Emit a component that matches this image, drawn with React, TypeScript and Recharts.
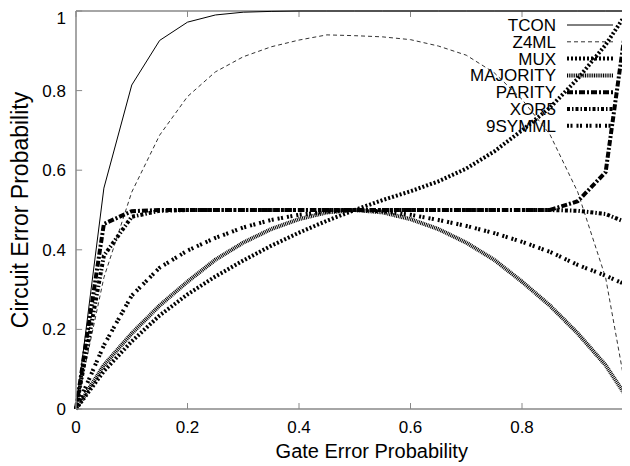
import { Line, LineChart, ReferenceLine, XAxis, YAxis } from "recharts";

const gateError = [
  0, 0.05, 0.1, 0.15, 0.2, 0.25, 0.3, 0.35, 0.4, 0.45, 0.5, 0.55, 0.6, 0.65,
  0.7, 0.75, 0.8, 0.85, 0.9, 0.95, 0.99,
];

const tcon = [
  0, 0.555, 0.814, 0.926, 0.972, 0.99, 0.997, 0.999, 1, 1, 1, 1, 1, 1, 1, 1, 1,
  1, 1, 1, 1,
];
const z4ml = [
  0, 0.33, 0.545, 0.688, 0.785, 0.847, 0.885, 0.91, 0.927, 0.94, 0.938, 0.935,
  0.928, 0.912, 0.889, 0.845, 0.778, 0.69, 0.545, 0.33, 0.02,
];
const mux = [
  0, 0.095, 0.17, 0.235, 0.288, 0.333, 0.373, 0.41, 0.443, 0.473, 0.5, 0.525,
  0.547, 0.572, 0.604, 0.647, 0.7, 0.757, 0.83, 0.915, 1,
];
const majority = [
  0, 0.11, 0.19, 0.26, 0.32, 0.375, 0.418, 0.452, 0.477, 0.494, 0.5, 0.494,
  0.477, 0.452, 0.418, 0.375, 0.32, 0.26, 0.19, 0.11, 0.025,
];
const parity = [
  0, 0.465, 0.497, 0.5, 0.5, 0.5, 0.5, 0.5, 0.5, 0.5, 0.5, 0.5, 0.5, 0.5, 0.5,
  0.5, 0.5, 0.5, 0.522, 0.595, 1,
];
const xor5 = [
  0, 0.385, 0.483, 0.498, 0.5, 0.5, 0.5, 0.5, 0.5, 0.5, 0.5, 0.5, 0.5, 0.5, 0.5,
  0.5, 0.5, 0.5, 0.498, 0.49, 0.467,
];
const symml9 = [
  0, 0.16, 0.285, 0.355, 0.398, 0.43, 0.456, 0.475, 0.488, 0.496, 0.5, 0.497,
  0.488, 0.475, 0.46, 0.442, 0.42, 0.395, 0.362, 0.335, 0.31,
];

const xTicks = [0, 0.2, 0.4, 0.6, 0.8];
const yTicks = [0, 0.2, 0.4, 0.6, 0.8, 1];

const SERIES = [
  { name: "TCON", values: tcon, width: 1, dash: undefined, color: "#000" },
  { name: "Z4ML", values: z4ml, width: 1, dash: "4 3", color: "#333" },
  { name: "MUX", values: mux, width: 4, dash: "2 2", color: "#000" },
  { name: "MAJORITY", values: majority, width: 4, dash: "1 0.8", color: "#000" },
  { name: "PARITY", values: parity, width: 4, dash: "6 2 2 2", color: "#000" },
  { name: "XOR5", values: xor5, width: 4, dash: "3 2 1.5 2", color: "#000" },
  { name: "9SYMML", values: symml9, width: 4, dash: "2 1.5 2 4", color: "#000" },
];

const data = gateError.map((x, i) => {
  const row: Record<string, number> = { x };
  SERIES.forEach((s) => {
    row[s.name] = s.values[i];
  });
  return row;
});

const FONT = '"Liberation Sans", Arial, Helvetica, sans-serif';
const BORDER = "#888";
const TICK_X = 0.011;
const TICK_Y = 0.015;

function ChartLegend() {
  return (
    <svg
      width={640}
      height={140}
      style={{ position: "absolute", left: 0, top: 0, fontFamily: FONT }}
    >
      {SERIES.map((s, i) => {
        const cy = 17 + i * 16.8;
        return (
          <g key={s.name}>
            <text
              x={548}
              y={cy}
              dy="0.355em"
              textAnchor="end"
              fontSize={17}
              fill="#000"
            >
              {s.name}
            </text>
            <line
              x1={559}
              x2={605}
              y1={cy}
              y2={cy}
              stroke={s.color}
              strokeWidth={s.width}
              strokeDasharray={s.dash}
            />
          </g>
        );
      })}
    </svg>
  );
}

export default function App() {
  return (
    <div
      style={{
        position: "relative",
        width: 622,
        height: 458,
        overflow: "hidden",
        fontFamily: FONT,
      }}
    >
      <ChartLegend />
      <LineChart
        width={640}
        height={458}
        data={data}
        margin={{ top: 3, right: 14.5, left: 0, bottom: 0 }}
      >
        <XAxis
          dataKey="x"
          type="number"
          domain={[0, 1]}
          ticks={xTicks}
          tickFormatter={(v) => String(v)}
          height={57}
          tickSize={0}
          tickMargin={12}
          tickLine={false}
          axisLine={{ stroke: BORDER, strokeWidth: 1.5 }}
          tick={{ fontSize: 17, fill: "#000", fontFamily: FONT }}
          label={{
            value: "Gate Error Probability",
            position: "insideBottom",
            offset: 8,
            dx: 17,
            fontSize: 20,
            fill: "#000",
            fontFamily: FONT,
          }}
        />
        <YAxis
          type="number"
          domain={[0, 1]}
          ticks={yTicks}
          tickFormatter={(v) => String(v)}
          width={68}
          tickSize={0}
          tickMargin={10}
          tickLine={false}
          axisLine={{ stroke: BORDER, strokeWidth: 1.5 }}
          tick={{ fontSize: 17, fill: "#000", fontFamily: FONT }}
          label={{
            value: "Circuit Error Probability",
            position: "insideLeft",
            angle: -90,
            offset: 12,
            fontSize: 23,
            fill: "#000",
            fontFamily: FONT,
            style: { textAnchor: "middle" },
          }}
        />
        <ReferenceLine y={1} stroke={BORDER} strokeWidth={1.5} />
        <ReferenceLine x={1} stroke={BORDER} strokeWidth={1.5} />
        {xTicks.map((t) => (
          <ReferenceLine
            key={`b${t}`}
            segment={[
              { x: t, y: 0 },
              { x: t, y: TICK_Y },
            ]}
            stroke={BORDER}
          />
        ))}
        {xTicks.map((t) => (
          <ReferenceLine
            key={`t${t}`}
            segment={[
              { x: t, y: 1 },
              { x: t, y: 1 - TICK_Y },
            ]}
            stroke={BORDER}
          />
        ))}
        {yTicks.map((t) => (
          <ReferenceLine
            key={`l${t}`}
            segment={[
              { x: 0, y: t },
              { x: TICK_X, y: t },
            ]}
            stroke={BORDER}
          />
        ))}
        {yTicks.map((t) => (
          <ReferenceLine
            key={`r${t}`}
            segment={[
              { x: 1, y: t },
              { x: 1 - TICK_X, y: t },
            ]}
            stroke={BORDER}
          />
        ))}
        {SERIES.map((s) => (
          <Line
            key={s.name}
            type="linear"
            dataKey={s.name}
            stroke={s.color}
            strokeWidth={s.width}
            strokeDasharray={s.dash}
            dot={false}
            activeDot={false}
            isAnimationActive={false}
          />
        ))}
      </LineChart>
    </div>
  );
}
